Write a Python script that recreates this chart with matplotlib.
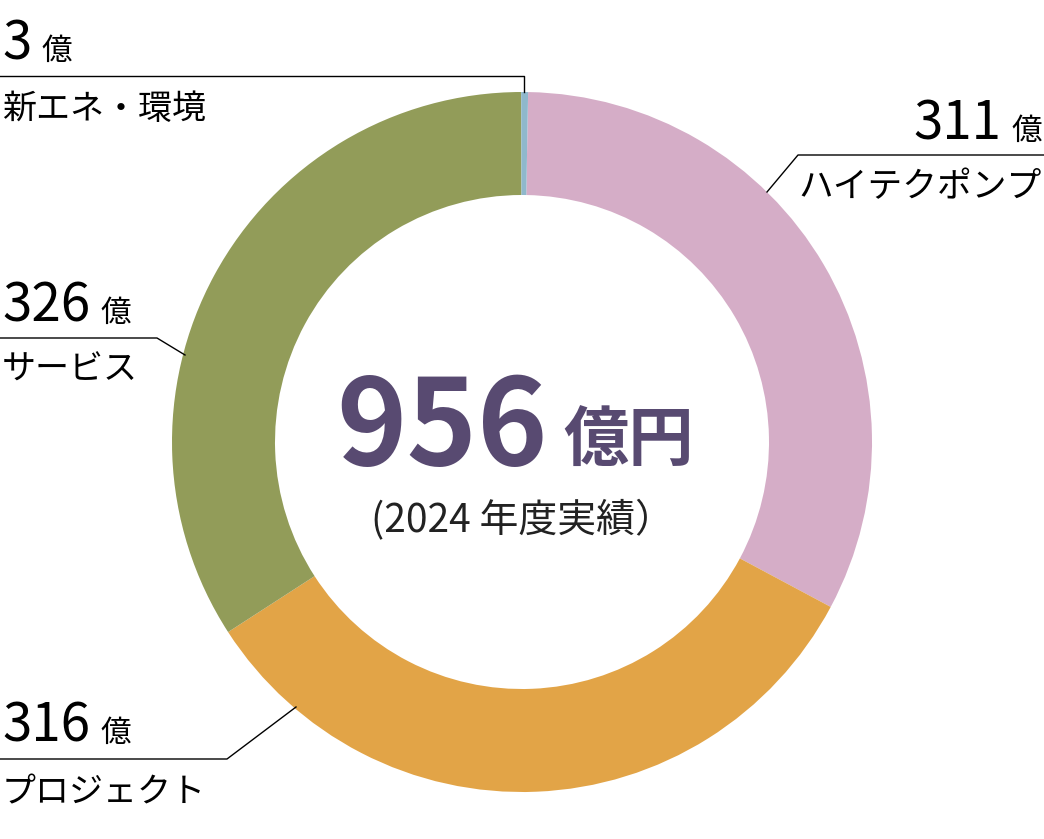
import matplotlib
matplotlib.use('Agg')
import matplotlib.pyplot as plt

plt.rcParams['font.family'] = ['Noto Sans CJK JP', 'DejaVu Sans']

# データ (時計回り、上から)
segments = ['ハイテクポンプ', 'プロジェクト', 'サービス', '新エネ・環境']
values = [311, 316, 326, 3]
colors = ['#d5adc7', '#e2a447', '#929c59', '#8fb8cc']
total_label = '956'
sub_label = '(2024 年度実績）'

W, H = 1044, 839
fig = plt.figure(figsize=(W / 100, H / 100), dpi=100)
ax = fig.add_axes([0, 0, 1, 1])

def py(y):
    # ピクセル座標(上から) -> データ座標
    return H - y

cx, cy, r_out, r_in = 522, 442, 350, 247
ax.pie(values, colors=colors, startangle=89, counterclock=False,
       center=(cx, py(cy)), radius=r_out,
       wedgeprops=dict(width=r_out - r_in, linewidth=0))

ax.set_xlim(0, W)
ax.set_ylim(0, H)
ax.set_aspect('equal')
ax.axis('off')

# 中央のテキスト
purple = '#584a71'
ax.text(548, py(465), total_label, fontsize=86, fontweight='bold', color=purple,
        ha='right', va='baseline')
ax.text(563, py(461), '億円', fontsize=47, fontweight='bold', color=purple,
        ha='left', va='baseline')
ax.text(522, py(521), sub_label, fontsize=28, color='#222222', ha='center', va='center')

# ラベルと引出線
lw = 1.0
def label(x_num, y_base, num, name, y_name, ha='left'):
    if ha == 'left':
        t = ax.text(x_num, py(y_base), num, fontsize=38, ha='left', va='baseline')
        fig.canvas.draw()
        bb = t.get_window_extent()
        ax.text(bb.x1 + 10, py(y_base), '億', fontsize=22, ha='left', va='baseline')
        ax.text(x_num, py(y_name), name, fontsize=24.5, ha='left', va='center')
    else:
        t = ax.text(x_num, py(y_base), '億', fontsize=22, ha='right', va='baseline')
        fig.canvas.draw()
        bb = t.get_window_extent()
        ax.text(bb.x0 - 10, py(y_base), num, fontsize=38, ha='right', va='baseline')
        ax.text(x_num, py(y_name), name, fontsize=25, ha='right', va='center')

# 新エネ・環境
label(2, 60, str(values[3]), segments[3], 110)
ax.plot([0, 524, 524], [py(76), py(76), py(92)], color='black', lw=lw)

# ハイテクポンプ
label(1042, 140, str(values[0]), segments[0], 188, ha='right')
ax.plot([1044, 798, 767], [py(155), py(155), py(192)], color='black', lw=lw)

# サービス
label(2, 322, str(values[2]), segments[2], 370)
ax.plot([0, 157, 185], [py(338), py(338), py(355)], color='black', lw=lw)

# プロジェクト
label(2, 742, str(values[1]), segments[1], 793)
ax.plot([0, 227, 296], [py(759), py(759), py(707)], color='black', lw=lw)

fig.savefig('out.png', dpi=100)
